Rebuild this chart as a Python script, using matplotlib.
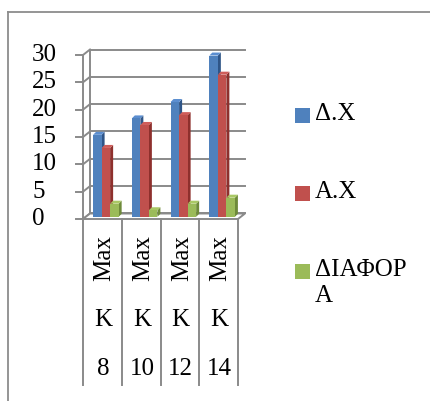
import matplotlib
matplotlib.use("Agg")
import matplotlib.pyplot as plt
from matplotlib.patches import Polygon, Rectangle
from matplotlib.lines import Line2D
from matplotlib.transforms import blended_transform_factory

# ---- data ----
categories = ["Max K 8", "Max K 10", "Max K 12", "Max K 14"]
series_names = ["Δ.Χ", "Α.Χ", "ΔΙΑΦΟΡΑ"]
dx_values = [15.0, 18.0, 21.0, 29.5]
ax_values = [12.6, 16.8, 18.6, 26.0]
diff_values = [2.4, 1.2, 2.4, 3.5]
y_ticks = [0, 5, 10, 15, 20, 25, 30]

series_values = [dx_values, ax_values, diff_values]
front_colors = ["#4F81BD", "#C0504D", "#9BBB59"]
side_colors = ["#2F5587", "#8E302D", "#6E8A3A"]
top_colors = ["#5B8ED0", "#CF5D5A", "#A9C864"]

W, H = 430, 401
FONT = "Liberation Serif"
FS = 18
GRID = "#8A8A8A"

fig = plt.figure(figsize=(W / 100, H / 100), dpi=100)

# outer frame (left and top edges only)
fig.add_artist(Line2D([8 / W, 8 / W], [0, 1 - 12 / H], transform=fig.transFigure,
                      color="#8C8C8C", lw=1.3))
fig.add_artist(Line2D([8 / W, 1], [1 - 12 / H, 1 - 12 / H], transform=fig.transFigure,
                      color="#8C8C8C", lw=1.3))

# front plane of the plot area
x0, x1 = 83, 238
y0, y1 = 219, 55
ax = fig.add_axes([x0 / W, 1 - y0 / H, (x1 - x0) / W, (y0 - y1) / H])
n = len(categories)
ax.set_xlim(-0.5, n - 0.5)
ax.set_ylim(0, 30)
ax.axis("off")

px_x = (x1 - x0) / n           # pixels per category
px_y = (y0 - y1) / 30.0        # pixels per value unit
DX, DY = 7 / px_x, 5.5 / px_y  # depth offset of the back wall

# back wall gridlines and side wall lines
for v in y_ticks:
    ax.plot([-0.5 + DX, n - 0.5 + DX], [v + DY, v + DY], color=GRID, lw=1.4,
            clip_on=False, zorder=1)
    ax.plot([-0.5, -0.5 + DX], [v, v + DY], color=GRID, lw=1.4, clip_on=False, zorder=1)
    ax.plot([-0.5 - 7 / px_x, -0.5], [v, v], color=GRID, lw=1.4, clip_on=False, zorder=1)
ax.plot([-0.5, -0.5], [0, 30], color=GRID, lw=1.4, clip_on=False, zorder=1)
ax.plot([-0.5 + DX, -0.5 + DX], [DY, 30 + DY], color=GRID, lw=1.4, clip_on=False, zorder=1)

# floor
floor = Polygon([(-0.5, 0), (n - 0.5, 0), (n - 0.5 + DX, DY), (-0.5 + DX, DY)],
                closed=True, facecolor="white", edgecolor=GRID, lw=1.4,
                clip_on=False, zorder=1.5)
ax.add_patch(floor)

# 3D columns
bw = 0.22
bdx, bdy = 3 / px_x, 3 / px_y       # column depth
mx, my = 0.09, 0.4                  # columns sit mid-depth
offsets = [-0.33, -0.11, 0.11]
for ci in range(n):
    for si, vals in enumerate(series_values):
        v = vals[ci]
        xl = ci + offsets[si] + mx
        xr = xl + bw
        yb = my
        yt = my + v
        side = Polygon([(xr, yb), (xr + bdx, yb + bdy), (xr + bdx, yt + bdy), (xr, yt)],
                       closed=True, facecolor=side_colors[si], edgecolor="none",
                       clip_on=False, zorder=3)
        top = Polygon([(xl, yt), (xr, yt), (xr + bdx, yt + bdy), (xl + bdx, yt + bdy)],
                      closed=True, facecolor=top_colors[si], edgecolor="none",
                      clip_on=False, zorder=3)
        front = Rectangle((xl, yb), bw, v, facecolor=front_colors[si], edgecolor="none",
                          clip_on=False, zorder=3)
        ax.add_patch(side)
        ax.add_patch(top)
        ax.add_patch(front)

# value axis labels (left aligned)
tr_y = blended_transform_factory(fig.transFigure, ax.transData)
for v in y_ticks:
    fig.text(32 / W, v, str(v), transform=tr_y, ha="left", va="center",
             fontsize=FS, family=FONT)

# category axis: separators and stacked labels
tr_x = blended_transform_factory(ax.transData, fig.transFigure)
for k in range(n + 1):
    ax.plot([k - 0.5, k - 0.5], [1 - y0 / H, 1 - 385 / H], transform=tr_x,
            color=GRID, lw=1.4, clip_on=False)
for ci, cat in enumerate(categories):
    word, letter, num = cat.split(" ")
    ax.text(ci + 0.05, 1 - 258 / H, word, transform=tr_x, rotation=90, ha="center",
            va="center", fontsize=FS, family=FONT)
    ax.text(ci + 0.02, 1 - 320 / H, letter, transform=tr_x, ha="center", va="center",
            fontsize=FS, family=FONT)
    ax.text(ci + 0.02, 1 - 369 / H, num, transform=tr_x, ha="center", va="center",
            fontsize=FS, family=FONT)

# legend
legend_labels = [series_names[0], series_names[1], "ΔΙΑΦΟΡ\nΑ"]
legend_y = [115, 193, 271]
for si in range(len(series_names)):
    yc = legend_y[si]
    fig.add_artist(Rectangle((295 / W, 1 - (yc + 7.5) / H), 15 / W, 15 / H,
                             transform=fig.transFigure, facecolor=front_colors[si],
                             edgecolor="none"))
    fig.text(315 / W, 1 - (yc - 12) / H, legend_labels[si], ha="left", va="top",
             fontsize=FS, family=FONT, linespacing=1.25)

fig.savefig("out.png", dpi=100)
